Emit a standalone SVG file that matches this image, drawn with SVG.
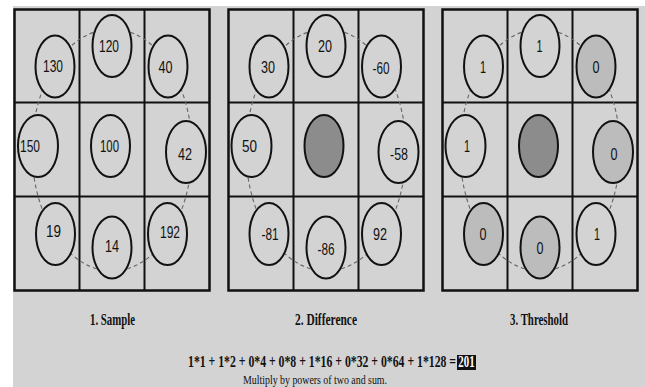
<svg xmlns="http://www.w3.org/2000/svg" width="645" height="387" viewBox="0 0 645 387">
<style>
.bg{fill:#d3d3d3}
.frame{fill:#d3d3d3;stroke:#111;stroke-width:2.5}
.inner{stroke:#111;stroke-width:2}
.dash{fill:none;stroke:#666;stroke-width:1.1;stroke-dasharray:4 3}
.n{stroke:#111;stroke-width:2;fill:#d3d3d3}
.z{fill:#bcbcbc}
.c{fill:#8c8c8c}
.t{font-family:"Liberation Sans",Arial,sans-serif;font-size:16px;fill:#111;text-anchor:middle}
.lab{font-family:"Liberation Serif","Times New Roman",serif;font-size:16px;font-weight:bold;fill:#111;text-anchor:middle}
.eq{font-family:"Liberation Serif","Times New Roman",serif;font-size:16px;font-weight:bold;fill:#111}
.cap{font-family:"Liberation Serif","Times New Roman",serif;font-size:12px;fill:#111;text-anchor:middle}
</style>
<defs>
<g id="grid">
<rect class="frame" x="14.5" y="9.5" width="195" height="281"/>
<line class="inner" x1="79.5" y1="9.5" x2="79.5" y2="290.5"/>
<line class="inner" x1="144.5" y1="9.5" x2="144.5" y2="290.5"/>
<line class="inner" x1="14.5" y1="102.5" x2="209.5" y2="102.5"/>
<line class="inner" x1="14.5" y1="196.5" x2="209.5" y2="196.5"/>
</g>
</defs>
<rect x="0" y="0" width="645" height="387" fill="#ffffff"/>
<rect class="bg" x="13" y="6" width="632" height="381"/>

<use href="#grid"/>
<use href="#grid" x="214"/>
<use href="#grid" x="428"/>

<g id="connectors">
<ellipse class="dash" cx="112" cy="150" rx="80" ry="121"/>
<ellipse class="dash" cx="326" cy="150" rx="80" ry="121"/>
<ellipse class="dash" cx="540" cy="150" rx="80" ry="121"/>
</g>

<g id="panel1">
<g id="s-tl"><ellipse class="n" cx="55" cy="66.5" rx="19.5" ry="31"/><text class="t" x="53" y="72" textLength="20" lengthAdjust="spacingAndGlyphs">130</text></g>
<g id="s-tm"><ellipse class="n" cx="112" cy="46" rx="19.5" ry="31"/><text class="t" x="109" y="52" textLength="20" lengthAdjust="spacingAndGlyphs">120</text></g>
<g id="s-tr"><ellipse class="n" cx="168" cy="66.5" rx="19.5" ry="31"/><text class="t" x="165.5" y="73" textLength="14" lengthAdjust="spacingAndGlyphs">40</text></g>
<g id="s-ml"><ellipse class="n" cx="38" cy="146" rx="20" ry="31"/><text class="t" x="30" y="152" textLength="20" lengthAdjust="spacingAndGlyphs">150</text></g>
<g id="s-mm"><ellipse class="n" cx="110.5" cy="146" rx="19.5" ry="31"/><text class="t" x="109.5" y="152" textLength="19" lengthAdjust="spacingAndGlyphs">100</text></g>
<g id="s-mr"><ellipse class="n" cx="186" cy="152" rx="20" ry="31"/><text class="t" x="185" y="160" textLength="14" lengthAdjust="spacingAndGlyphs">42</text></g>
<g id="s-bl"><ellipse class="n" cx="55.5" cy="234" rx="19.5" ry="31"/><text class="t" x="53.5" y="237" textLength="15" lengthAdjust="spacingAndGlyphs">19</text></g>
<g id="s-bm"><ellipse class="n" cx="112" cy="247.5" rx="19.5" ry="31"/><text class="t" x="112" y="252" textLength="14" lengthAdjust="spacingAndGlyphs">14</text></g>
<g id="s-br"><ellipse class="n" cx="167.5" cy="234" rx="19.5" ry="31"/><text class="t" x="170" y="238" textLength="20" lengthAdjust="spacingAndGlyphs">192</text></g>
</g>

<g id="panel2">
<g id="d-tl"><ellipse class="n" cx="269" cy="66.5" rx="19.5" ry="31"/><text class="t" x="268" y="73" textLength="14" lengthAdjust="spacingAndGlyphs">30</text></g>
<g id="d-tm"><ellipse class="n" cx="326" cy="46" rx="19.5" ry="31"/><text class="t" x="325" y="52" textLength="14" lengthAdjust="spacingAndGlyphs">20</text></g>
<g id="d-tr"><ellipse class="n" cx="381.5" cy="66.5" rx="19.5" ry="31"/><text class="t" x="381" y="74" textLength="17" lengthAdjust="spacingAndGlyphs">-60</text></g>
<g id="d-ml"><ellipse class="n" cx="251.5" cy="146" rx="20" ry="31"/><text class="t" x="249.5" y="152" textLength="15" lengthAdjust="spacingAndGlyphs">50</text></g>
<g id="d-mm"><ellipse class="n c" cx="324" cy="146" rx="19.5" ry="31"/></g>
<g id="d-mr"><ellipse class="n" cx="398.5" cy="152" rx="20" ry="31"/><text class="t" x="399" y="160" textLength="18" lengthAdjust="spacingAndGlyphs">-58</text></g>
<g id="d-bl"><ellipse class="n" cx="269" cy="234" rx="19.5" ry="31"/><text class="t" x="270" y="239.5" textLength="17" lengthAdjust="spacingAndGlyphs">-81</text></g>
<g id="d-bm"><ellipse class="n" cx="326" cy="247.5" rx="19.5" ry="31"/><text class="t" x="326" y="254.5" textLength="17" lengthAdjust="spacingAndGlyphs">-86</text></g>
<g id="d-br"><ellipse class="n" cx="381.5" cy="234" rx="19.5" ry="31"/><text class="t" x="380" y="239.5" textLength="14" lengthAdjust="spacingAndGlyphs">92</text></g>
</g>

<g id="panel3">
<g id="h-tl"><ellipse class="n" cx="483.5" cy="66.5" rx="19.5" ry="31"/><text class="t" x="483" y="73" textLength="6" lengthAdjust="spacingAndGlyphs">1</text></g>
<g id="h-tm"><ellipse class="n" cx="540" cy="46" rx="19.5" ry="31"/><text class="t" x="539.5" y="52" textLength="6" lengthAdjust="spacingAndGlyphs">1</text></g>
<g id="h-tr"><ellipse class="n z" cx="596" cy="66.5" rx="19.5" ry="31"/><text class="t" x="596" y="73" textLength="7" lengthAdjust="spacingAndGlyphs">0</text></g>
<g id="h-ml"><ellipse class="n" cx="465.5" cy="146" rx="20" ry="31"/><text class="t" x="467" y="152" textLength="6" lengthAdjust="spacingAndGlyphs">1</text></g>
<g id="h-mm"><ellipse class="n c" cx="538.5" cy="146" rx="19.5" ry="31"/></g>
<g id="h-mr"><ellipse class="n z" cx="613" cy="152" rx="20" ry="31"/><text class="t" x="614" y="160" textLength="7" lengthAdjust="spacingAndGlyphs">0</text></g>
<g id="h-bl"><ellipse class="n z" cx="483.5" cy="234" rx="19.5" ry="31"/><text class="t" x="483" y="239.5" textLength="7" lengthAdjust="spacingAndGlyphs">0</text></g>
<g id="h-bm"><ellipse class="n z" cx="540" cy="247.5" rx="19.5" ry="31"/><text class="t" x="540" y="254" textLength="7" lengthAdjust="spacingAndGlyphs">0</text></g>
<g id="h-br"><ellipse class="n" cx="596" cy="234" rx="19.5" ry="31"/><text class="t" x="597" y="239.5" textLength="6" lengthAdjust="spacingAndGlyphs">1</text></g>
</g>

<g id="labels">
<text class="lab" x="112.5" y="325" textLength="45" lengthAdjust="spacingAndGlyphs">1. Sample</text>
<text class="lab" x="326" y="325" textLength="62" lengthAdjust="spacingAndGlyphs">2. Difference</text>
<text class="lab" x="539" y="325" textLength="58" lengthAdjust="spacingAndGlyphs">3. Threshold</text>
<text class="eq" transform="translate(188,367) scale(0.735,1)" x="0" y="0">1*1 + 1*2 + 0*4 + 0*8 + 1*16 + 0*32 + 0*64 + 1*128 =</text>
<rect x="457" y="355" width="19" height="15" fill="#111"/>
<text class="eq" transform="translate(466.5,367) scale(0.68,1)" x="0" y="0" text-anchor="middle" style="fill:#ffffff">201</text>
<text class="cap" x="315" y="384" textLength="144" lengthAdjust="spacingAndGlyphs">Multiply by powers of two and sum.</text>
</g>
</svg>
